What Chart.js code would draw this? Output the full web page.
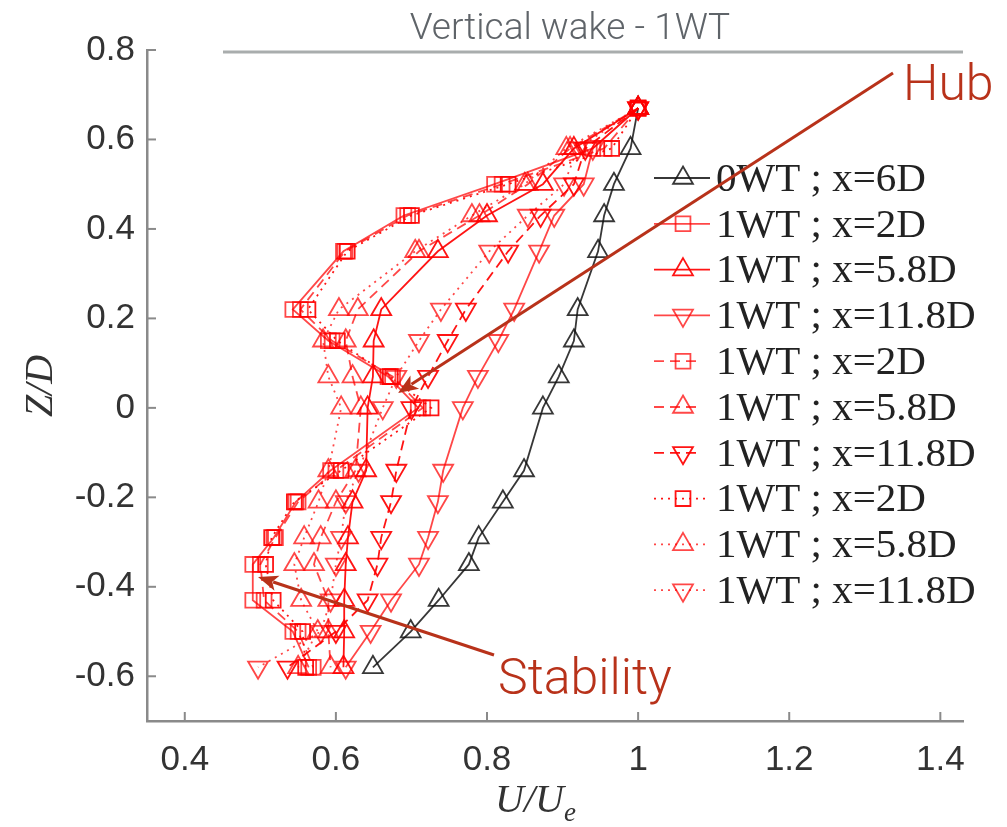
<!DOCTYPE html>
<html>
<head>
<meta charset="utf-8">
<script src="https://cdn.jsdelivr.net/npm/chart.js@4.4.1/dist/chart.umd.min.js"></script>
<style>
    body { margin: 0; background: #fff; }
    canvas { display: block; }
</style>
</head>
<body>
<canvas id="graficoEstela" width="1007" height="827"></canvas>
<script>
// ===================================== Datos ==================
var alturas = [0.67, 0.58, 0.5, 0.43, 0.35, 0.22, 0.15, 0.07, 0, -0.14, -0.21, -0.29, -0.35, -0.43, -0.5, -0.58];

var u0wt6D    = [1.0, 0.99, 0.968, 0.955, 0.947, 0.92, 0.915, 0.895, 0.874, 0.849, 0.821, 0.789, 0.776, 0.736, 0.699, 0.649];

var u1wt2D    = [1.0, 0.94, 0.81, 0.69, 0.61, 0.543, 0.59, 0.669, 0.709, 0.593, 0.547, 0.518, 0.49, 0.49, 0.543, 0.564];
var u1wt58D   = [1.0, 0.915, 0.874, 0.80, 0.735, 0.66, 0.65, 0.649, 0.642, 0.64, 0.622, 0.616, 0.613, 0.611, 0.611, 0.61];
var u1wt118D  = [1.0, 0.94, 0.928, 0.889, 0.869, 0.836, 0.815, 0.788, 0.768, 0.742, 0.735, 0.722, 0.71, 0.673, 0.646, 0.613];

var u1wt2Db   = [1.0, 0.955, 0.82, 0.695, 0.612, 0.553, 0.595, 0.675, 0.715, 0.6, 0.55, 0.52, 0.5, 0.505, 0.55, 0.57];
var u1wt58Db  = [1.0, 0.91, 0.854, 0.79, 0.71, 0.629, 0.613, 0.622, 0.633, 0.626, 0.6, 0.58, 0.571, 0.59, 0.59, 0.593];
var u1wt118Db = [1.0, 0.93, 0.915, 0.871, 0.828, 0.772, 0.748, 0.722, 0.70, 0.68, 0.673, 0.66, 0.655, 0.642, 0.60, 0.536];

var u1wt2Dc   = [1.0, 0.965, 0.828, 0.7, 0.615, 0.563, 0.602, 0.672, 0.726, 0.607, 0.545, 0.515, 0.507, 0.517, 0.556, 0.56];
var u1wt58Dc  = [1.0, 0.905, 0.85, 0.78, 0.705, 0.604, 0.583, 0.59, 0.607, 0.59, 0.577, 0.558, 0.545, 0.554, 0.576, 0.55];
var u1wt118Dc = [1.0, 0.92, 0.902, 0.854, 0.803, 0.739, 0.71, 0.68, 0.662, 0.63, 0.613, 0.607, 0.6, 0.593, 0.58, 0.497];

var etiquetas = [
    "0WT ; x=6D",
    "1WT ; x=2D", "1WT ; x=5.8D", "1WT ; x=11.8D",
    "1WT ; x=2D", "1WT ; x=5.8D", "1WT ; x=11.8D",
    "1WT ; x=2D", "1WT ; x=5.8D", "1WT ; x=11.8D"
];

var xTicks = [0.4, 0.6, 0.8, 1, 1.2, 1.4];
var yTicks = [-0.6, -0.4, -0.2, 0, 0.2, 0.4, 0.6, 0.8];



// ===================================== Estilos ==================
var negro = "rgba(20, 20, 20, 0.85)";
var rojo = "rgba(255, 0, 0, 0.92)";
var rojoClaro = "rgba(255, 0, 0, 0.72)";
var colorFlecha = "#b8321a";

var trazos = { solido: [], rayado: [10, 6], punteado: [2, 5] };

function serie(valores, etiqueta, color, forma, trazo, orden) {
    return {
        label: etiqueta,
        data: valores.map((u, i) => ({ x: u, y: alturas[i] })),
        showLine: true,
        borderColor: color,
        borderWidth: 1.8,
        borderDash: trazo,
        pointRotation: forma === "abajo" ? 180 : 0,
        pointStyle: forma === "cuadrado" ? "rect" : "triangle",
        pointRadius: forma === "cuadrado" ? 10.5 : 11.5,
        pointBorderWidth: 1.8,
        pointBorderColor: color,
        pointBackgroundColor: "rgba(0,0,0,0)",
        order: orden,
        _forma: forma,
        _trazo: trazo
    };
}

var datasets = [
    serie(u0wt6D, etiquetas[0], negro, "arriba", trazos.solido, 1),
    serie(u1wt2D, etiquetas[1], rojoClaro, "cuadrado", trazos.solido, 0),
    serie(u1wt58D, etiquetas[2], rojo, "arriba", trazos.solido, 0),
    serie(u1wt118D, etiquetas[3], rojoClaro, "abajo", trazos.solido, 0),
    serie(u1wt2Db, etiquetas[4], rojoClaro, "cuadrado", trazos.rayado, 0),
    serie(u1wt58Db, etiquetas[5], rojoClaro, "arriba", trazos.rayado, 0),
    serie(u1wt118Db, etiquetas[6], rojo, "abajo", trazos.rayado, 0),
    serie(u1wt2Dc, etiquetas[7], rojo, "cuadrado", trazos.punteado, 0),
    serie(u1wt58Dc, etiquetas[8], rojoClaro, "arriba", trazos.punteado, 0),
    serie(u1wt118Dc, etiquetas[9], rojoClaro, "abajo", trazos.punteado, 0)
];



// ===================================== Dibujo de marcadores (leyenda) ==================
function dibujarMarcador(ctx, forma, x, y, r) {
    ctx.beginPath();
    if (forma === "cuadrado") {
        var s = r * Math.SQRT1_2;
        ctx.rect(x - s, y - s, 2 * s, 2 * s);
    } else {
        var sig = forma === "abajo" ? -1 : 1;
        ctx.moveTo(x, y - sig * r);
        ctx.lineTo(x + r * 0.866, y + sig * r * 0.5);
        ctx.lineTo(x - r * 0.866, y + sig * r * 0.5);
        ctx.closePath();
    }
    ctx.stroke();
}

function flecha(ctx, x0, y0, x1, y1) {
    var ang = Math.atan2(y1 - y0, x1 - x0);
    var largo = 20, ancho = 8;
    ctx.strokeStyle = colorFlecha;
    ctx.fillStyle = colorFlecha;
    ctx.lineWidth = 3;
    ctx.setLineDash([]);
    ctx.beginPath();
    ctx.moveTo(x0, y0);
    ctx.lineTo(x1 - Math.cos(ang) * largo * 0.8, y1 - Math.sin(ang) * largo * 0.8);
    ctx.stroke();
    ctx.beginPath();
    ctx.moveTo(x1, y1);
    ctx.lineTo(x1 - Math.cos(ang) * largo - Math.sin(ang) * ancho, y1 - Math.sin(ang) * largo + Math.cos(ang) * ancho);
    ctx.lineTo(x1 - Math.cos(ang) * largo * 0.75, y1 - Math.sin(ang) * largo * 0.75);
    ctx.lineTo(x1 - Math.cos(ang) * largo + Math.sin(ang) * ancho, y1 - Math.sin(ang) * largo - Math.cos(ang) * ancho);
    ctx.closePath();
    ctx.fill();
}



// ===================================== Plugin: ticks internos, títulos, leyenda, anotaciones ==================
var extras = {
    id: "extras",
    afterDraw(chart) {
        const ctx = chart.ctx;
        const area = chart.chartArea;
        const sx = chart.scales.x, sy = chart.scales.y;
        ctx.save();

        // ticks hacia adentro
        ctx.strokeStyle = "#8a8a8a";
        ctx.lineWidth = 2;
        xTicks.forEach(v => {
            const px = sx.getPixelForValue(v);
            ctx.beginPath(); ctx.moveTo(px, area.bottom); ctx.lineTo(px, area.bottom - 9); ctx.stroke();
        });
        yTicks.forEach(v => {
            const py = sy.getPixelForValue(v);
            ctx.beginPath(); ctx.moveTo(area.left, py); ctx.lineTo(area.left + 9, py); ctx.stroke();
        });

        // título y línea
        ctx.fillStyle = "#5f6469";
        ctx.font = "300 37px Roboto, 'Liberation Sans', sans-serif";
        ctx.textAlign = "center";
        ctx.textBaseline = "alphabetic";
        ctx.fillText("Vertical wake - 1WT", 570, 39);
        ctx.strokeStyle = "#a9adad";
        ctx.lineWidth = 3;
        ctx.beginPath(); ctx.moveTo(223, 52); ctx.lineTo(963, 52); ctx.stroke();

        // títulos de ejes
        ctx.fillStyle = "#333";
        ctx.font = "italic 40px 'Liberation Serif', serif";
        ctx.save();
        ctx.translate(52, 386);
        ctx.rotate(-Math.PI / 2);
        ctx.textAlign = "center";
        ctx.fillText("Z/D", 0, 0);
        ctx.restore();
        ctx.textAlign = "left";
        ctx.fillText("U/U", 495, 812);
        var wU = ctx.measureText("U/U").width;
        ctx.font = "italic 27px 'Liberation Serif', serif";
        ctx.fillText("e", 495 + wU, 821);

        // leyenda
        datasets.forEach((ds, i) => {
            const y = 178 + i * 45.8;
            const x1 = ds._trazo === trazos.rayado ? 702 : 710;
            ctx.strokeStyle = ds.borderColor;
            ctx.lineWidth = 1.8;
            ctx.setLineDash(ds._trazo);
            ctx.beginPath(); ctx.moveTo(654, y); ctx.lineTo(x1, y); ctx.stroke();
            ctx.setLineDash([]);
            dibujarMarcador(ctx, ds._forma, 683, y, ds._forma === "cuadrado" ? 10.5 : 11.5);
            ctx.fillStyle = "#222";
            ctx.font = "41px 'Liberation Serif', serif";
            ctx.textAlign = "left";
            ctx.textBaseline = "middle";
            ctx.fillText(ds.label, 716, y + 2);
        });

        // anotaciones
        flecha(ctx, 893, 73, 398, 393);
        flecha(ctx, 494, 655, 258, 577);
        ctx.fillStyle = colorFlecha;
        ctx.font = "300 50px Roboto, 'Liberation Sans', sans-serif";
        ctx.textAlign = "left";
        ctx.textBaseline = "alphabetic";
        ctx.fillText("Hub", 903, 100);
        ctx.fillText("Stability", 498, 694);

        ctx.restore();
    }
};



// ===================================== Gráfico ==================
var fuenteTicks = { family: "'Liberation Sans', Arial, sans-serif", size: 35 };

var chartEstela = new Chart(document.getElementById("graficoEstela"), {
    type: "scatter",
    data: { datasets: datasets },
    options: {
        responsive: false,
        animation: false,
        layout: { padding: { top: 50, right: 44, left: 0, bottom: 0 } },
        plugins: {
            legend: { display: false },
            tooltip: { enabled: false }
        },
        scales: {
            x: {
                type: "linear",
                min: 0.35,
                max: 1.43,
                afterBuildTicks: axis => { axis.ticks = xTicks.map(v => ({ value: v })); },
                afterFit: scale => { scale.height = 106; },
                grid: { display: false, drawTicks: false },
                border: { display: true, color: "#8a8a8a", width: 2.5 },
                ticks: { font: fuenteTicks, color: "#333", padding: 18, maxRotation: 0, callback: v => String(v) }
            },
            y: {
                type: "linear",
                min: -0.7,
                max: 0.8,
                afterBuildTicks: axis => { axis.ticks = yTicks.map(v => ({ value: v })); },
                afterFit: scale => { scale.width = 147; },
                grid: { display: false, drawTicks: false },
                border: { display: true, color: "#8a8a8a", width: 2.5 },
                ticks: { font: fuenteTicks, color: "#333", padding: 12, callback: v => String(v) }
            }
        }
    },
    plugins: [extras]
});
</script>
</body>
</html>
